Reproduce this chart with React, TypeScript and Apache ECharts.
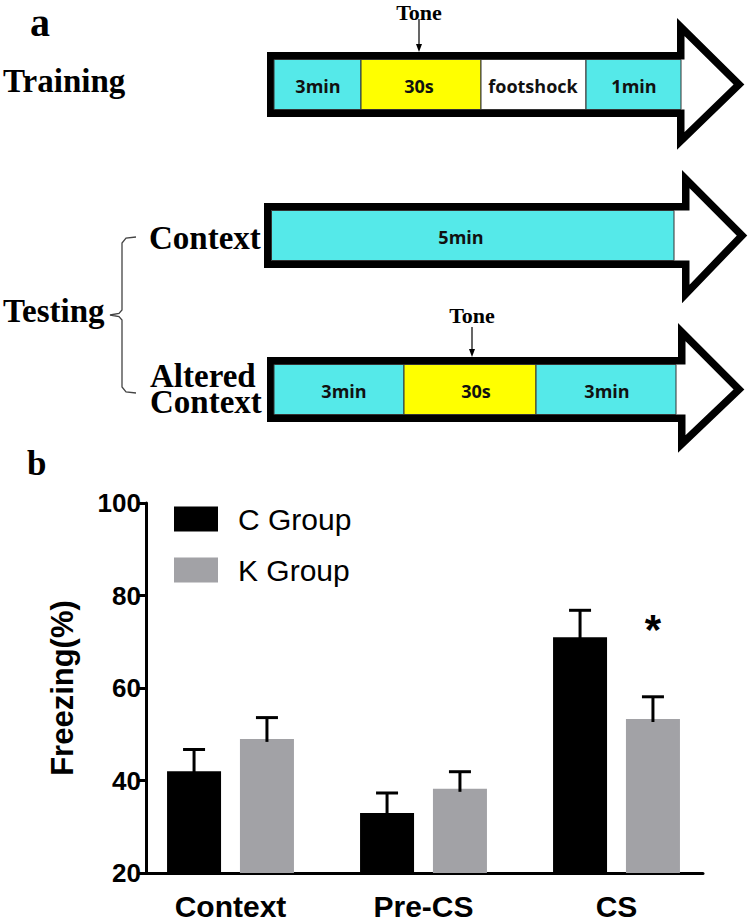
import React, { useEffect, useRef } from 'react';
import * as echarts from 'echarts';

// ---------- Panel b data ----------
const categories = ['Context', 'Pre-CS', 'CS'];
const groupNames = ['C Group', 'K Group'];
const cMeans = [42, 33, 71];
const cSem = [4.7, 4.3, 5.8];
const kMeans = [49, 38.2, 53.3];
const kSem = [4.6, 3.7, 4.8];
const significance = ['', '', '*'];
const yTicks = [20, 40, 60, 80, 100];

// ---------- Panel a content ----------
const trainingSegments = ['3min', '30s', 'footshock', '1min'];
const contextSegments = ['5min'];
const alteredSegments = ['3min', '30s', '3min'];
const toneLabel = 'Tone';

// ---------- layout / style constants ----------
const CYAN = '#55E9E9';
const YELLOW = '#FFFF00';
const WHITE = '#FFFFFF';
const BORDER = 7.5;
const SERIF = '"Liberation Serif", "Times New Roman", serif';
const SANS = '"Liberation Sans", Arial, sans-serif';
const SEG_FONT = '"Open Sans", "Noto Sans", sans-serif';

const BAR_W = 54;
const BAR_GAP_RATIO = 0.35;
const CAP_W = 22;

const arrows = [
  { left: 267, top: 52, bottom: 117, headX: 677, headTop: 18, headBottom: 150, tip: 745,
    bounds: [274, 361, 481, 586, 681], colors: [CYAN, YELLOW, WHITE, CYAN], labels: trainingSegments,
    labelX: [318, 419, 533, 634] },
  { left: 264, top: 203, bottom: 268, headX: 682, headTop: 170, headBottom: 303, tip: 748,
    bounds: [271.5, 674], colors: [CYAN], labels: contextSegments, labelX: [461] },
  { left: 267, top: 357, bottom: 422, headX: 678, headTop: 323, headBottom: 453, tip: 745,
    bounds: [274, 404, 536, 676], colors: [CYAN, YELLOW, CYAN], labels: alteredSegments,
    labelX: [344, 476, 607] },
];

function buildArrow(a: any) {
  const h = BORDER / 2;
  const mid = (a.top + a.bottom) / 2;
  const els: any[] = [
    {
      type: 'polygon',
      shape: {
        points: [
          [a.left + h, a.top + h],
          [a.headX + h, a.top + h],
          [a.headX + h, a.headTop + 9],
          [a.tip - 6, mid],
          [a.headX + h, a.headBottom - 9],
          [a.headX + h, a.bottom - h],
          [a.left + h, a.bottom - h],
        ],
      },
      style: { fill: '#fff', stroke: '#000', lineWidth: BORDER, lineJoin: 'miter' },
    },
  ];
  const y0 = a.top + BORDER;
  const hh = a.bottom - a.top - 2 * BORDER;
  a.labels.forEach((lab: string, i: number) => {
    const x0 = a.bounds[i];
    const x1 = a.bounds[i + 1];
    els.push({
      type: 'rect',
      shape: { x: x0, y: y0, width: x1 - x0, height: hh },
      style: { fill: a.colors[i], stroke: '#333', lineWidth: 1 },
    });
  });
  a.labels.forEach((lab: string, i: number) => {
    els.push({
      type: 'text',
      x: a.labelX[i],
      y: mid + 1,
      style: {
        text: lab, fill: '#111', fontSize: 18, fontWeight: 'bold', fontFamily: SEG_FONT,
        align: 'center', verticalAlign: 'middle', lineHeight: 20,
      },
    });
  });
  return els;
}

function toneMarker(x: number, textY: number, y1: number, y2: number) {
  return [
    {
      type: 'text', x, y: textY,
      style: { text: toneLabel, fill: '#000', fontSize: 22, fontWeight: 'bold', fontFamily: SERIF,
        align: 'center', verticalAlign: 'middle', lineHeight: 18 },
    },
    { type: 'line', shape: { x1: x, y1, x2: x, y2: y2 - 5 }, style: { stroke: '#000', lineWidth: 1.2 } },
    { type: 'polygon', shape: { points: [[x - 3, y2 - 8], [x + 3, y2 - 8], [x, y2]] }, style: { fill: '#000' } },
  ];
}

function serifText(text: string, x: number, y: number, size = 33, lh = 26) {
  return {
    type: 'text', x, y,
    style: { text, fill: '#000', fontSize: size, fontWeight: 'bold', fontFamily: SERIF,
      align: 'left', verticalAlign: 'middle', lineHeight: lh },
  };
}

export default function App() {
  const ref = useRef<HTMLDivElement>(null);
  useEffect(() => {
    document.body.style.margin = '0';
    if (!ref.current) return;
    const chart = echarts.init(ref.current, undefined, { renderer: 'svg' });

    const offset = (BAR_W + BAR_W * BAR_GAP_RATIO) / 2;
    const makeErr = (dir: number, withStar: boolean) => (params: any, api: any) => {
      const idx = api.value(0);
      const mean = api.value(1);
      const sem = api.value(2);
      const base = api.coord([idx, mean]);
      const top = api.coord([idx, mean + sem]);
      const x = base[0] + dir * offset;
      const children: any[] = [
        { type: 'line', shape: { x1: x, y1: base[1] + 3, x2: x, y2: top[1] }, style: { stroke: '#000', lineWidth: 3 } },
        { type: 'line', shape: { x1: x - CAP_W / 2, y1: top[1], x2: x + CAP_W / 2, y2: top[1] }, style: { stroke: '#000', lineWidth: 3 } },
      ];
      const sig = withStar ? significance[idx] : '';
      if (sig) {
        children.push({
          type: 'text', x, y: top[1] - 67,
          style: { text: sig, fill: '#000', fontSize: 42, fontWeight: 'bold', fontFamily: SANS, align: 'center', verticalAlign: 'middle' },
        });
      }
      return { type: 'group', children };
    };

    const graphicEls: any[] = [
      serifText('a', 30, 22, 40, 40),
      serifText('Training', 3, 81),
      serifText('Context', 149, 237.5),
      serifText('Testing', 3, 311),
      serifText('Altered\nContext', 150, 389),
      serifText('b', 27, 463, 35, 30),
      {
        type: 'polyline',
        shape: {
          points: [[136, 237], [126, 238], [122, 243], [122, 310], [119, 313.5], [110, 315], [119, 316.5], [122, 320], [122, 387], [126, 392], [136, 393]],
        },
        style: { stroke: '#444', lineWidth: 1.3, fill: null },
      },
      ...toneMarker(419, 12, 19, 52),
      ...toneMarker(472, 315, 327, 357),
    ];
    arrows.forEach((a) => graphicEls.push(...buildArrow(a)));

    const option: any = {
      animation: false,
      textStyle: { fontFamily: SANS },
      graphic: { elements: graphicEls },
      legend: {
        data: groupNames,
        orient: 'vertical',
        left: 169,
        top: 499,
        itemWidth: 44,
        itemHeight: 25,
        itemGap: 21,
        icon: 'rect',
        textStyle: { fontSize: 30, color: '#000', fontFamily: SANS, padding: [0, 0, 0, 15] },
      },
      grid: [
        { left: 134, top: 503, width: 579, height: 370 },
        { left: 146, top: 503, width: 557, height: 370 },
      ],
      xAxis: [
        {
          gridIndex: 0, type: 'category', data: categories,
          axisLine: { show: false }, axisTick: { show: false },
          axisLabel: { fontSize: 30, fontWeight: 'bold', color: '#000', margin: 18, fontFamily: SANS },
        },
        {
          gridIndex: 1, type: 'category', data: categories,
          axisLine: { show: true, lineStyle: { color: '#000', width: 3 } },
          axisTick: { show: false }, axisLabel: { show: false },
        },
      ],
      yAxis: [
        { gridIndex: 0, type: 'value', min: yTicks[0], max: yTicks[yTicks.length - 1], show: false },
        {
          gridIndex: 1, type: 'value',
          min: yTicks[0], max: yTicks[yTicks.length - 1], interval: yTicks[1] - yTicks[0],
          axisLine: { show: true, lineStyle: { color: '#000', width: 3 } },
          axisTick: { show: true, length: 9, lineStyle: { color: '#000', width: 3 } },
          axisLabel: { fontSize: 26, fontWeight: 'bold', color: '#000', margin: 5, fontFamily: SANS },
          splitLine: { show: false },
          name: 'Freezing(%)', nameLocation: 'middle', nameGap: 68,
          nameTextStyle: { fontSize: 31, fontWeight: 'bold', color: '#000', fontFamily: SANS },
        },
      ],
      series: [
        {
          type: 'bar', name: groupNames[0], data: cMeans, xAxisIndex: 0, yAxisIndex: 0,
          barWidth: BAR_W, barGap: `${BAR_GAP_RATIO * 100}%`, itemStyle: { color: '#000000' },
        },
        {
          type: 'bar', name: groupNames[1], data: kMeans, xAxisIndex: 0, yAxisIndex: 0,
          barWidth: BAR_W, barGap: `${BAR_GAP_RATIO * 100}%`, itemStyle: { color: '#A2A2A6' },
        },
        {
          type: 'custom', name: 'C err', xAxisIndex: 0, yAxisIndex: 0, z: 5,
          data: cMeans.map((m, i) => [i, m, cSem[i]]),
          encode: { x: 0, y: 1 },
          renderItem: makeErr(-1, false),
        },
        {
          type: 'custom', name: 'K err', xAxisIndex: 0, yAxisIndex: 0, z: 5,
          data: kMeans.map((m, i) => [i, m, kSem[i]]),
          encode: { x: 0, y: 1 },
          renderItem: makeErr(1, true),
        },
      ],
    };
    chart.setOption(option);
    return () => chart.dispose();
  }, []);

  return <div ref={ref} style={{ width: 749, height: 924 }} />;
}
